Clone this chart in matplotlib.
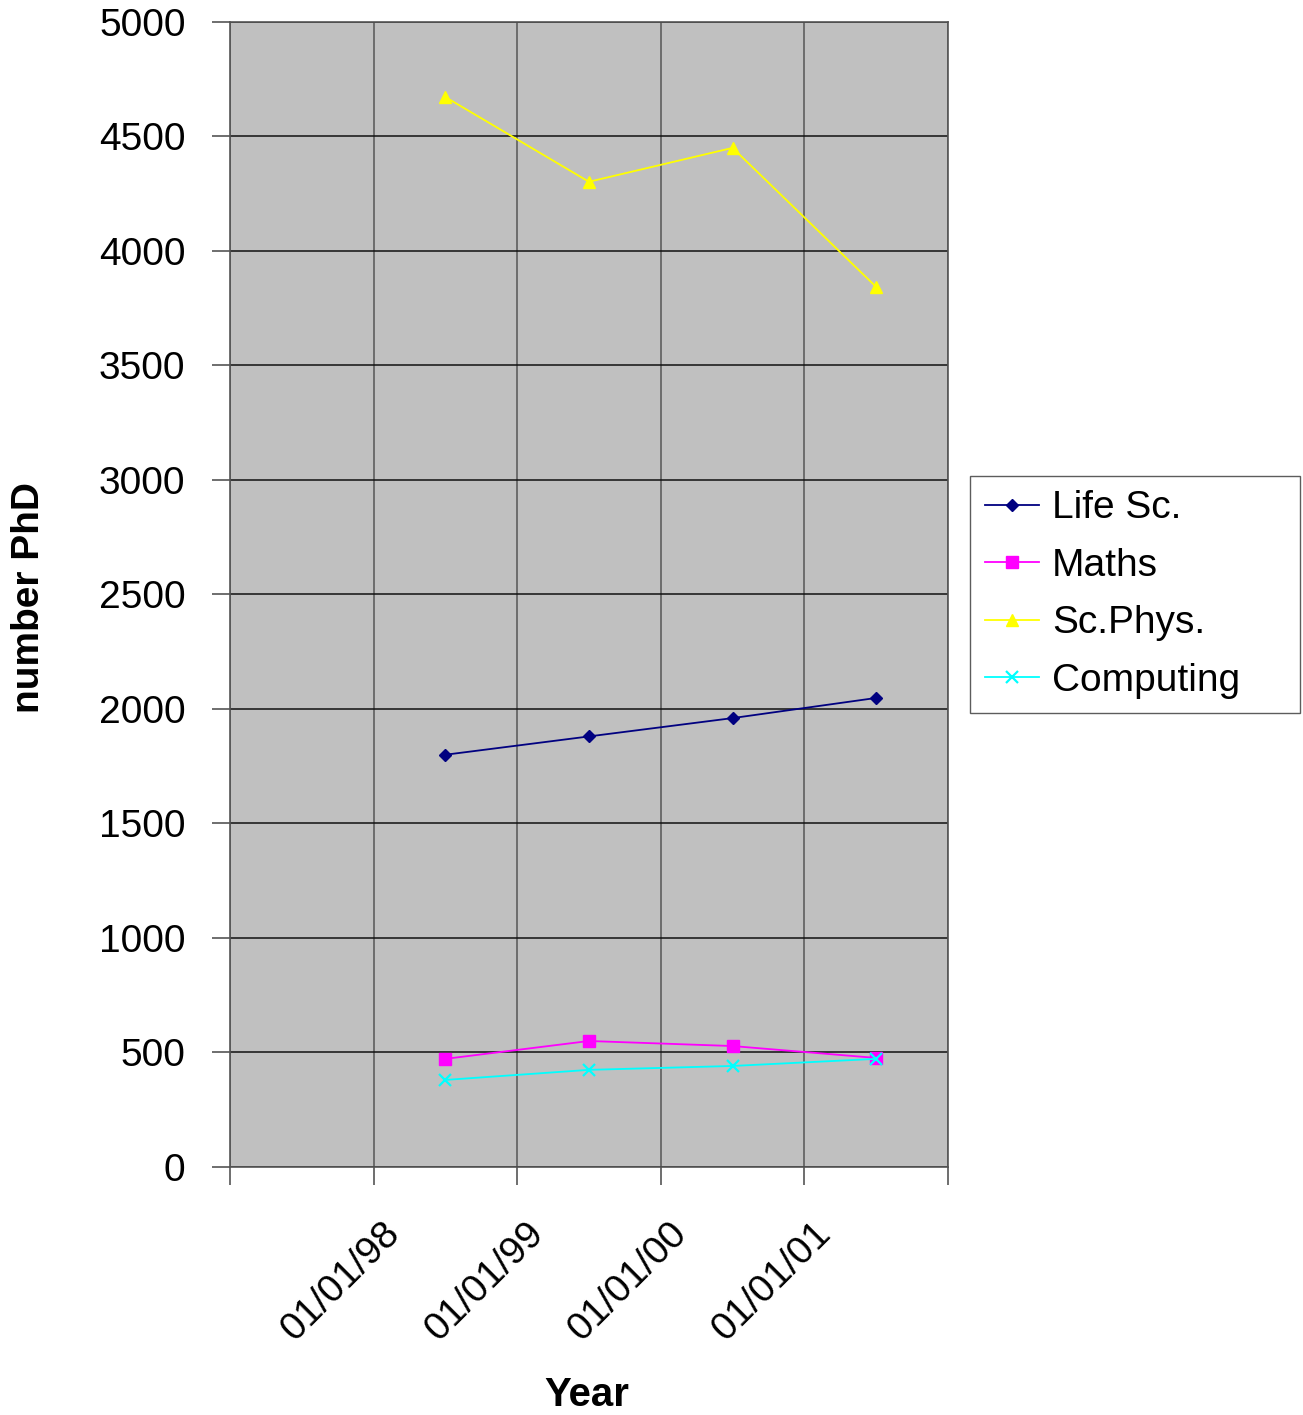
import numpy as np
import matplotlib.pyplot as plt
from matplotlib.transforms import ScaledTranslation

plt.rcParams['font.family'] = ['Liberation Sans', 'DejaVu Sans']

year_labels = ["01/01/98", "01/01/99", "01/01/00", "01/01/01"]
life_sc = [1800, 1880, 1960, 2048]
maths = [472, 550, 528, 476]
sc_phys = [4672, 4302, 4450, 3843]
computing = [380, 424, 441, 472]

x = np.arange(1, len(year_labels) + 1)

fig = plt.figure(figsize=(13.03, 14.15), dpi=100)
ax = fig.add_axes([0.1765, 0.1753, 0.551, 0.8092])
ax.set_facecolor("#C0C0C0")

ax.plot(x, life_sc, color="#000080", marker="D", markersize=6.5, lw=1.3, label="Life Sc.")
ax.plot(x, maths, color="#FF00FF", marker="s", markersize=9, lw=1.3, label="Maths")
ax.plot(x, sc_phys, color="#FFFF00", marker="^", markersize=9, lw=1.3, label="Sc.Phys.")
ax.plot(x, computing, color="#00FFFF", marker="x", markersize=9, mew=1.6, lw=1.3, label="Computing")

ax.set_xlim(-0.5, 4.5)
ax.set_ylim(0, 5000)
ax.set_yticks(np.arange(0, 5001, 500))
ax.set_xticks(np.arange(-0.5, 4.6, 1.0))
ax.set_xticklabels([""] + year_labels + [""])
ax.yaxis.grid(True, color="#111111", lw=1.1)
ax.xaxis.grid(True, color="#555555", lw=1.1)
ax.set_axisbelow(True)
for s in ax.spines.values():
    s.set_color("#555555")
    s.set_linewidth(1.2)

ax.tick_params(axis="both", direction="out", length=13, width=1.2, color="#555555",
               labelsize=28)
ax.tick_params(axis="y", pad=19)

# rotated date labels, pushed down/right like the spreadsheet layout
offset = ScaledTranslation(8 / 100, -25 / 100, fig.dpi_scale_trans)
for lbl in ax.get_xticklabels():
    lbl.set_rotation(45)
    lbl.set_rotation_mode("anchor")
    lbl.set_ha("right")
    lbl.set_va("top")
    lbl.set_transform(lbl.get_transform() + offset)

ax.set_xlabel("Year", fontsize=29, fontweight="bold", va="top")
ax.xaxis.set_label_coords(0.497, -0.183)
ax.set_ylabel("number PhD", fontsize=28, fontweight="bold")
ax.yaxis.set_label_coords(-0.255, 0.497)

# one-column legend stretched to a fixed box width
leg = ax.legend(loc="center left", bbox_to_anchor=(1.031, 0.40, 0.4596, 0.2),
                mode="expand", fontsize=28,
                frameon=True, fancybox=False, edgecolor="#333333",
                handlelength=1.4, handletextpad=0.33, borderpad=0.38,
                labelspacing=0.55, borderaxespad=0)
leg.get_frame().set_linewidth(1.0)

fig.savefig("out.png", dpi=100, facecolor="white")
